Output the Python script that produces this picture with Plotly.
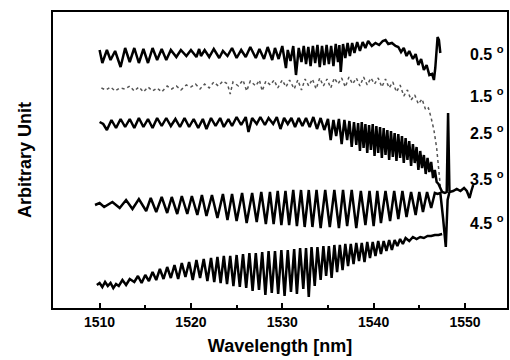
import plotly.graph_objects as go

# ---- data (wavelength in nm, arbitrary intensity) ----
wl_05 = [1510.0,1510.3,1510.8,1511.2,1511.7,1512.3,1512.8,1513.3,1513.8,1514.3,1514.8,1515.3,1515.8,1516.3,1516.8,1517.3,1517.8,1518.4,1518.9,1519.5,1520.0,1520.6,
         1520.9,1521.1,1521.5,1522.0,1522.5,1523.1,1523.5,1524.0,1524.5,1525.0,1525.5,1526.0,1526.5,1527.1,1527.5,1528.0,1528.4,1528.9,1529.2,1529.6,1530.0,1530.4,1530.6,1530.9,1531.2,1531.5,1531.8,
         1532.1,1532.35,1532.6,1532.85,1533.1,1533.35,1533.6,1533.85,1534.1,1534.35,1534.6,1534.85,1535.1,1535.35,1535.6,1535.85,1536.1,1536.25,1536.4,1536.65,1536.9,1537.15,1537.4,1537.65,1537.9,
         1538.2,1538.5,1538.8,1539.1,1539.4,1539.8,1540.2,1540.6,1541.0,1541.3,1541.6,1542.0,1542.4,1542.7,1543.0,1543.3,1543.6,1543.9,1544.3,1544.6,1544.9,1545.2,1545.5,1545.8,1546.1,1546.4,1546.6,
         1546.75,1547.0,1547.15,1547.3]
v_05 = [258,245,258,248,257,241,260,246,260,245,259,245,260,248,259,248,258,251,258,252,258,251,
        259,252,258,251,259,250,257,252,260,250,258,251,261,250,259,249,261,248,260,249,262,240,258,247,262,233,260,
        246,262,244,261,242,262,245,263,241,262,243,263,244,262,242,264,246,263,236,264,250,265,252,265,255,
        266,257,266,260,267,262,265,263,267,268,264,265,262,261,256,260,252,257,249,254,243,249,238,243,233,234,228,
        240,271,268,255]

wl_15 = [1510.2,1510.7,1511.2,1511.7,1512.2,1512.8,1513.3,1513.8,1514.3,1514.8,1515.3,1515.8,1516.3,1516.8,1517.4,1517.9,1518.4,1518.9,1519.5,1520.0,1520.5,1521.0,1521.5,1522.0,1522.5,
         1523.0,1523.5,1524.0,1524.3,1524.6,1525.2,1525.7,1526.1,1526.5,1527.1,1527.5,1527.8,1528.2,1528.7,1529.1,1529.5,1530.0,1530.4,1530.8,1531.3,1531.7,1532.1,1532.5,1532.9,1533.3,
         1533.7,1534.1,1534.5,1534.9,1535.3,1535.7,1536.1,1536.5,1536.9,1537.3,1537.7,1538.1,1538.5,1538.9,1539.3,1539.7,1540.1,1540.5,1540.9,1541.3,1541.7,1542.1,1542.5,1542.9,1543.3,
         1543.7,1544.1,1544.5,1544.9,1545.3,1545.7,1546.0,1546.3,1546.6,1546.9,1547.1,1547.3]
v_15 = [220,218,221,217,220,219,222,217,221,216,221,217,220,216,222,219,222,218,223,221,224,219,224,220,226,
        222,227,224,214,226,222,228,217,227,222,228,217,227,223,228,220,228,221,228,219,228,218,229,222,229,
        219,230,222,229,220,230,224,230,221,231,224,230,222,231,223,230,224,230,221,229,220,226,216,223,212,
        218,208,213,204,209,198,200,190,178,160,140,122]

wl_25 = [1510.0,1510.4,1510.8,1511.3,1511.8,1512.3,1512.8,1513.3,1513.8,1514.3,1514.8,1515.3,1515.8,1516.3,1516.8,1517.3,1517.8,1518.3,1518.8,1519.3,1519.8,1520.3,1520.8,1521.3,1521.7,
         1522.2,1522.7,1523.2,1523.6,1524.1,1524.5,1525.0,1525.5,1526.0,1526.3,1526.7,1527.2,1527.6,1528.1,1528.5,1529.0,1529.4,1529.8,1530.2,1530.6,1531.0,1531.4,1531.8,1532.2,1532.6,
         1533.0,1533.4,1533.8,1534.2,1534.6,1535.0,1535.3,1535.6,1535.9,1536.2,1536.5,1536.8,1537.1,1537.35,1537.6,1537.85,1538.1,1538.3,1538.5,1538.7,1538.9,1539.1,1539.3,1539.5,1539.7,
         1539.9,1540.1,1540.3,1540.5,1540.7,1540.9,1541.1,1541.3,1541.5,1541.7,1541.9,1542.1,1542.3,1542.5,1542.7,1542.9,1543.1,1543.3,1543.5,1543.7,1543.9,1544.1,1544.3,1544.5,1544.7,
         1544.9,1545.1,1545.3,1545.5,1545.7,1545.9,1546.1,1546.3,1546.5,1546.7,1546.9,1547.1,1547.3,1547.5,1547.8,1548.0,1548.15,1548.25,1548.3]
v_25 = [186,184,178,188,180,189,181,189,180,190,181,189,180,190,182,190,182,189,181,190,181,189,180,189,179,
        190,182,190,181,189,182,191,183,191,176,190,184,191,183,190,184,191,179,190,184,190,181,190,182,190,
        181,191,179,190,178,189,168,188,172,189,164,188,168,187,161,186,163,185,157,186,160,184,155,183,158,
        184,152,182,155,181,150,180,153,178,148,177,151,175,147,174,150,172,145,170,148,167,142,164,145,161,
        138,157,140,153,134,150,136,146,130,138,126,124,120,116,115,116,195,150,117]

wl_35 = [1509.5,1510.0,1510.5,1511.0,1511.4,1512.2,1512.9,1513.6,1514.3,1515.1,1515.6,1516.2,1516.8,1517.4,1517.9,1518.5,1519.0,1519.6,1520.1,1520.7,
         1521.2,1521.7,1522.3,1522.9,1523.5,1524.0,1524.5,1525.0,1525.6,1526.1,1526.7,1527.2,1527.7,1528.2,1528.65,1529.05,1529.5,1529.9,1530.35,1530.75,
         1531.2,1531.6,1532.05,1532.45,1532.9,1533.3,1533.75,1534.2,1534.7,1535.2,1535.7,1536.2,1536.65,1537.1,1537.6,1538.1,1538.6,1539.1,1539.55,1540.0,
         1540.4,1540.8,1541.3,1541.8,1542.25,1542.7,1543.15,1543.6,1544.1,1544.6,1545.0,1545.4,1545.85,1546.3,1546.7,1547.0,1547.3,1547.6,1547.9,1548.1,
         1548.3,1548.7,1549.1,1549.5,1549.9,1550.2,1550.5,1550.7,1550.9]
v_35 = [103,105,101,104,106,100,108,99,109,97,110,96,111,95,111,94,112,94,112,93,
        113,92,113,90,114,88,114,87,115,85,115,86,116,84,116,84,117,83,117,83,
        118,82,118,81,118,81,118,80,118,81,118,80,118,82,118,80,117,83,117,82,
        117,85,117,87,117,89,117,91,116,93,116,96,116,100,115,114,115,90,61,108,
        116,117,119,117,120,117,110,117,123]

wl_45 = [1509.7,1510.0,1510.3,1510.6,1510.9,1511.2,1511.5,1511.8,1512.1,1512.5,1512.9,1513.3,1513.8,1514.2,1514.6,1515.0,1515.4,1515.8,1516.2,1516.6,1517.0,1517.4,1517.8,1518.2,1518.6,
         1519.0,1519.4,1519.8,1520.2,1520.6,1521.0,1521.4,1521.8,1522.2,1522.55,1522.9,1523.25,1523.6,1523.95,1524.3,1524.65,1525.0,1525.35,1525.7,1526.05,1526.4,1526.75,1527.1,1527.45,1527.8,
         1528.15,1528.5,1528.85,1529.2,1529.55,1529.9,1530.25,1530.6,1530.95,1531.3,1531.6,1531.95,1532.3,1532.6,1532.9,1533.2,1533.55,1533.85,1534.2,1534.5,1534.8,1535.1,1535.4,1535.7,1536.0,
         1536.3,1536.6,1536.9,1537.2,1537.5,1537.8,1538.1,1538.4,1538.7,1539.0,1539.3,1539.6,1539.9,1540.2,1540.5,1540.8,1541.1,1541.4,1541.7,1542.0,1542.3,1542.6,1542.9,1543.2,1543.5,
         1543.9,1544.3,1544.7,1545.1,1545.5,1545.9,1546.3,1546.7,1547.1,1547.5]
v_45 = [23,25,21,26,22,25,20,24,22,28,23,29,26,32,25,33,27,36,28,39,29,41,30,43,29,
        45,31,46,28,48,30,49,27,50,26,51,25,52,24,52,22,53,21,54,20,55,17,55,18,56,
        13,57,15,57,14,58,12,58,16,59,14,60,19,60,11,61,22,61,28,62,32,62,30,63,36,
        63,38,64,42,64,44,65,47,65,46,66,50,66,52,67,54,67,57,68,58,68,62,69,64,70,
        67,71,69,71,70,72,72,73,73,74]

labels = ["0.5", "1.5", "2.5", "3.5", "4.5"]
label_y = [255, 213, 176, 130, 86]
x_ticks = [1510, 1520, 1530, 1540, 1550]

FONT = "Liberation Sans, Arial"

fig = go.Figure()
solid = dict(color="black", width=2.5)
fig.add_trace(go.Scatter(x=wl_05, y=v_05, mode="lines", line=solid))
fig.add_trace(go.Scatter(x=wl_15, y=v_15, mode="lines", line=dict(color="#555555", width=1.5, dash="dot")))
fig.add_trace(go.Scatter(x=wl_25, y=v_25, mode="lines", line=solid))
fig.add_trace(go.Scatter(x=wl_35, y=v_35, mode="lines", line=solid))
fig.add_trace(go.Scatter(x=wl_45, y=v_45, mode="lines", line=solid))

for t, yy in zip(labels, label_y):
    fig.add_annotation(x=1550.3, y=yy, xref="x", yref="y", text=f"<b>{t} <sup>o</sup></b>",
                       showarrow=False, xanchor="left", yanchor="middle",
                       font=dict(family=FONT, size=16, color="black"))

fig.update_layout(
    width=510, height=360, showlegend=False,
    paper_bgcolor="white", plot_bgcolor="white",
    margin=dict(l=53, r=1, t=12, b=52),
    font=dict(family=FONT, color="black"),
)
fig.update_xaxes(range=[1504.9, 1554.6], tickvals=x_ticks, ticktext=[f"<b>{v}</b>" for v in x_ticks],
                 ticks="inside", ticklen=5, tickwidth=1.5, tickcolor="black",
                 minor=dict(dtick=5, tick0=1505, ticks="inside", ticklen=3, tickcolor="black"),
                 showline=True, linewidth=2, linecolor="black", mirror=True,
                 showgrid=False, zeroline=False,
                 tickfont=dict(family=FONT, size=14),
                 title=dict(text="<b>Wavelength [nm]</b>", font=dict(family=FONT, size=18), standoff=11))
fig.update_yaxes(range=[0, 296], showticklabels=False, ticks="",
                 showline=True, linewidth=2, linecolor="black", mirror=True,
                 showgrid=False, zeroline=False,
                 title=dict(text="<b>Arbitrary Unit</b>", font=dict(family=FONT, size=18), standoff=15))

fig.write_html("out.html")
